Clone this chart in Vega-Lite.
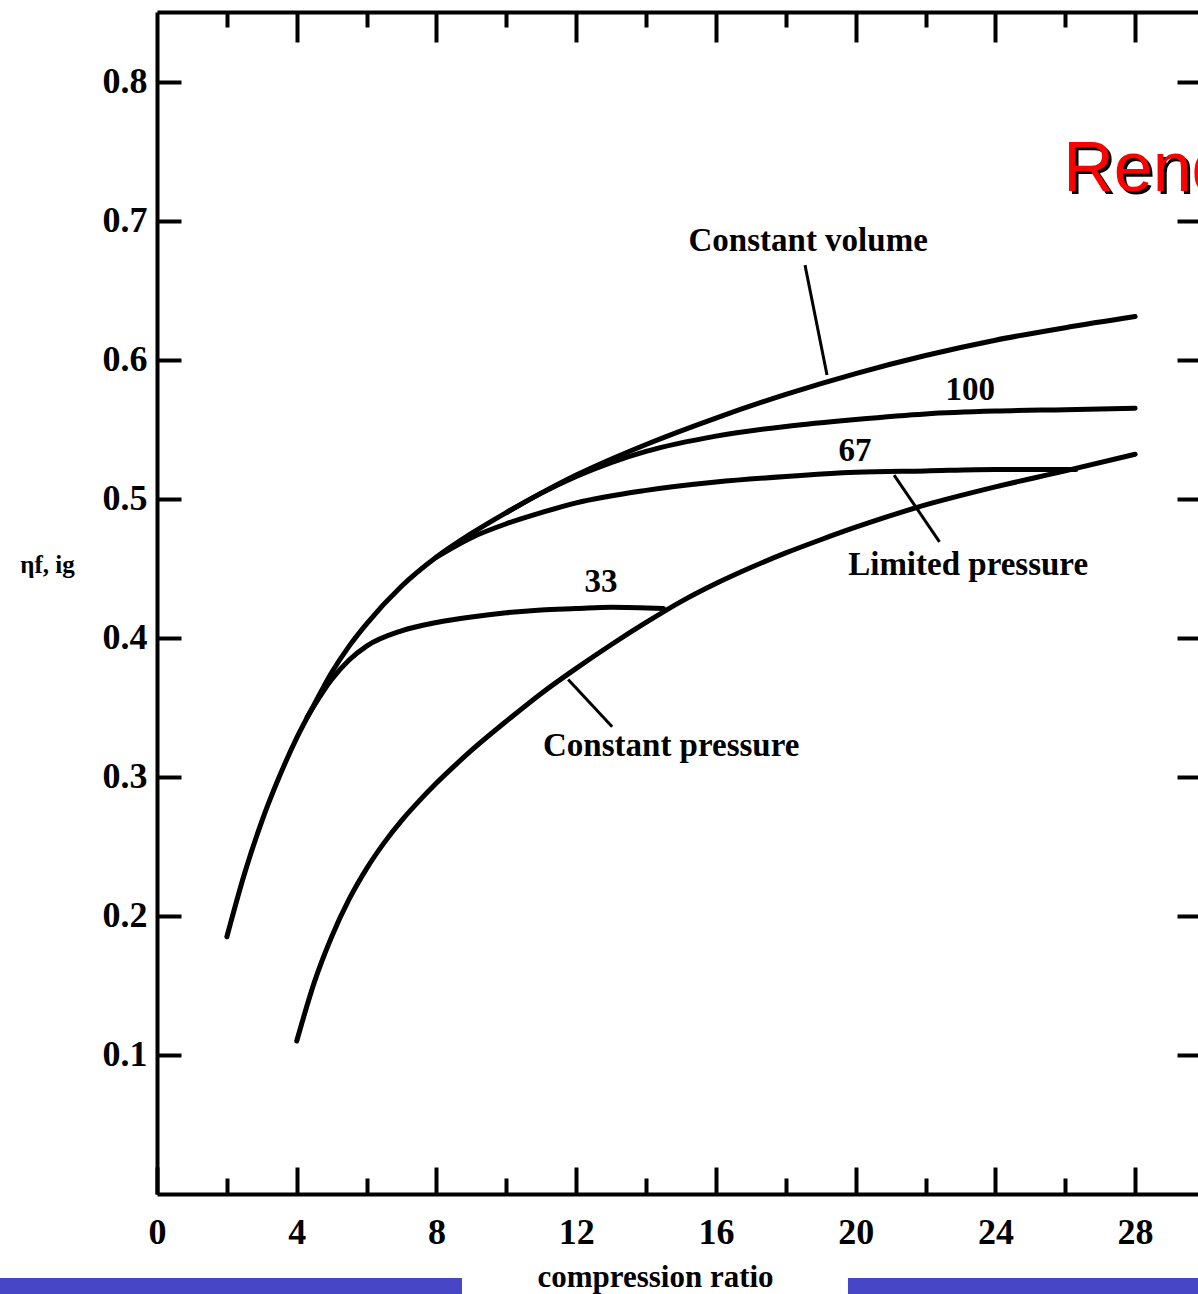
{
  "$schema": "https://vega.github.io/schema/vega-lite/v6.json",
  "width": 1041,
  "height": 1182,
  "autosize": {"type": "none"},
  "padding": {"left": 157, "top": 12, "right": 0, "bottom": 100},
  "background": "#ffffff",
  "config": {"view": {"stroke": null}, "axis": {"grid": false}},
  "datasets": {
    "curves": [
      {"series": "Constant volume", "r": 2, "eta": 0.185},
      {"series": "Constant volume", "r": 2.5, "eta": 0.23},
      {"series": "Constant volume", "r": 3, "eta": 0.268},
      {"series": "Constant volume", "r": 3.5, "eta": 0.3},
      {"series": "Constant volume", "r": 4, "eta": 0.328},
      {"series": "Constant volume", "r": 4.5, "eta": 0.352},
      {"series": "Constant volume", "r": 5, "eta": 0.375},
      {"series": "Constant volume", "r": 5.5, "eta": 0.394},
      {"series": "Constant volume", "r": 6, "eta": 0.41},
      {"series": "Constant volume", "r": 7, "eta": 0.437},
      {"series": "Constant volume", "r": 8, "eta": 0.458},
      {"series": "Constant volume", "r": 9, "eta": 0.475},
      {"series": "Constant volume", "r": 10, "eta": 0.49},
      {"series": "Constant volume", "r": 11, "eta": 0.504},
      {"series": "Constant volume", "r": 12, "eta": 0.517},
      {"series": "Constant volume", "r": 14, "eta": 0.539},
      {"series": "Constant volume", "r": 16, "eta": 0.558},
      {"series": "Constant volume", "r": 18, "eta": 0.575},
      {"series": "Constant volume", "r": 20, "eta": 0.59},
      {"series": "Constant volume", "r": 22, "eta": 0.603},
      {"series": "Constant volume", "r": 24, "eta": 0.614},
      {"series": "Constant volume", "r": 26, "eta": 0.623},
      {"series": "Constant volume", "r": 28, "eta": 0.631},
      {"series": "Limited pressure 100", "r": 10, "eta": 0.49},
      {"series": "Limited pressure 100", "r": 11, "eta": 0.504},
      {"series": "Limited pressure 100", "r": 12, "eta": 0.516},
      {"series": "Limited pressure 100", "r": 13, "eta": 0.526},
      {"series": "Limited pressure 100", "r": 14, "eta": 0.534},
      {"series": "Limited pressure 100", "r": 16, "eta": 0.545},
      {"series": "Limited pressure 100", "r": 18, "eta": 0.552},
      {"series": "Limited pressure 100", "r": 20, "eta": 0.557},
      {"series": "Limited pressure 100", "r": 22, "eta": 0.561},
      {"series": "Limited pressure 100", "r": 24, "eta": 0.563},
      {"series": "Limited pressure 100", "r": 26, "eta": 0.564},
      {"series": "Limited pressure 100", "r": 28, "eta": 0.565},
      {"series": "Limited pressure 67", "r": 8, "eta": 0.458},
      {"series": "Limited pressure 67", "r": 9, "eta": 0.472},
      {"series": "Limited pressure 67", "r": 10, "eta": 0.482},
      {"series": "Limited pressure 67", "r": 11, "eta": 0.49},
      {"series": "Limited pressure 67", "r": 12, "eta": 0.497},
      {"series": "Limited pressure 67", "r": 14, "eta": 0.506},
      {"series": "Limited pressure 67", "r": 16, "eta": 0.512},
      {"series": "Limited pressure 67", "r": 18, "eta": 0.516},
      {"series": "Limited pressure 67", "r": 20, "eta": 0.519},
      {"series": "Limited pressure 67", "r": 22, "eta": 0.52},
      {"series": "Limited pressure 67", "r": 24, "eta": 0.521},
      {"series": "Limited pressure 67", "r": 26.3, "eta": 0.521},
      {"series": "Limited pressure 33", "r": 4.3, "eta": 0.343},
      {"series": "Limited pressure 33", "r": 5, "eta": 0.37},
      {"series": "Limited pressure 33", "r": 5.5, "eta": 0.384},
      {"series": "Limited pressure 33", "r": 6, "eta": 0.394},
      {"series": "Limited pressure 33", "r": 7, "eta": 0.405},
      {"series": "Limited pressure 33", "r": 8, "eta": 0.411},
      {"series": "Limited pressure 33", "r": 9, "eta": 0.415},
      {"series": "Limited pressure 33", "r": 10, "eta": 0.418},
      {"series": "Limited pressure 33", "r": 11, "eta": 0.42},
      {"series": "Limited pressure 33", "r": 12, "eta": 0.421},
      {"series": "Limited pressure 33", "r": 13, "eta": 0.422},
      {"series": "Limited pressure 33", "r": 14.5, "eta": 0.421},
      {"series": "Constant pressure", "r": 4, "eta": 0.11},
      {"series": "Constant pressure", "r": 4.5, "eta": 0.152},
      {"series": "Constant pressure", "r": 5, "eta": 0.185},
      {"series": "Constant pressure", "r": 5.5, "eta": 0.212},
      {"series": "Constant pressure", "r": 6, "eta": 0.234},
      {"series": "Constant pressure", "r": 6.5, "eta": 0.2525},
      {"series": "Constant pressure", "r": 7, "eta": 0.2685},
      {"series": "Constant pressure", "r": 7.5, "eta": 0.2825},
      {"series": "Constant pressure", "r": 8, "eta": 0.2955},
      {"series": "Constant pressure", "r": 8.5, "eta": 0.3075},
      {"series": "Constant pressure", "r": 9, "eta": 0.319},
      {"series": "Constant pressure", "r": 10, "eta": 0.34},
      {"series": "Constant pressure", "r": 11, "eta": 0.36},
      {"series": "Constant pressure", "r": 12, "eta": 0.378},
      {"series": "Constant pressure", "r": 13, "eta": 0.395},
      {"series": "Constant pressure", "r": 14, "eta": 0.411},
      {"series": "Constant pressure", "r": 15, "eta": 0.426},
      {"series": "Constant pressure", "r": 16, "eta": 0.439},
      {"series": "Constant pressure", "r": 17, "eta": 0.4505},
      {"series": "Constant pressure", "r": 18, "eta": 0.461},
      {"series": "Constant pressure", "r": 19, "eta": 0.4705},
      {"series": "Constant pressure", "r": 20, "eta": 0.4795},
      {"series": "Constant pressure", "r": 22, "eta": 0.4955},
      {"series": "Constant pressure", "r": 24, "eta": 0.5085},
      {"series": "Constant pressure", "r": 26, "eta": 0.52},
      {"series": "Constant pressure", "r": 28, "eta": 0.532}
    ],
    "leaders": [
      {"r": 18.55, "eta": 0.668, "r2": 19.18, "eta2": 0.589},
      {"r": 21.1, "eta": 0.517, "r2": 22.4, "eta2": 0.469},
      {"r": 11.77, "eta": 0.37, "r2": 13.03, "eta2": 0.336}
    ],
    "notes": [
      {"r": 18.64, "eta": 0.685, "label": "Constant volume"},
      {"r": 23.28, "eta": 0.578, "label": "100"},
      {"r": 19.98, "eta": 0.534, "label": "67"},
      {"r": 12.71, "eta": 0.44, "label": "33"},
      {"r": 23.22, "eta": 0.452, "label": "Limited pressure"},
      {"r": 14.72, "eta": 0.322, "label": "Constant pressure"}
    ]
  },
  "resolve": {"axis": {"x": "independent", "y": "independent"}},
  "layer": [
    {
      "data": {"name": "curves"},
      "mark": {"type": "line", "stroke": "black", "strokeWidth": 5, "interpolate": "monotone", "strokeCap": "round"},
      "encoding": {
        "x": {
          "field": "r", "type": "quantitative",
          "scale": {"domain": [0, 29.8], "nice": false, "zero": false},
          "axis": {
            "orient": "bottom", "values": [0, 4, 8, 12, 16, 20, 24, 28],
            "tickSize": -27, "tickWidth": 4, "tickColor": "black",
            "domainColor": "black", "domainWidth": 4,
            "labelFont": "Liberation Serif", "labelFontWeight": "bold", "labelFontSize": 36, "labelColor": "black",
            "labelPadding": 48, "labelFlush": false, "labelOverlap": false,
            "title": "compression ratio", "titleFont": "Liberation Serif", "titleFontWeight": "bold", "titleFontSize": 31,
            "titleColor": "black", "titleX": 498, "titleY": 92, "titleBaseline": "alphabetic", "titleAlign": "center"
          }
        },
        "y": {
          "field": "eta", "type": "quantitative",
          "scale": {"domain": [0, 0.85], "nice": false, "zero": false},
          "axis": {
            "orient": "left", "values": [0.1, 0.2, 0.3, 0.4, 0.5, 0.6, 0.7, 0.8], "format": ".1f",
            "tickSize": -24, "tickWidth": 4, "tickColor": "black",
            "domainColor": "black", "domainWidth": 4,
            "labelFont": "Liberation Serif", "labelFontWeight": "bold", "labelFontSize": 36, "labelColor": "black",
            "labelPadding": 34, "labelFlush": false, "labelOverlap": false,
            "title": "ηf, ig", "titleAngle": 0, "titleX": -110, "titleY": 552,
            "titleAlign": "center", "titleBaseline": "middle",
            "titleFont": "Liberation Serif", "titleFontWeight": "bold", "titleFontSize": 25, "titleColor": "black"
          }
        },
        "detail": {"field": "series"}
      }
    },
    {
      "data": {"name": "curves"},
      "mark": {"type": "point", "opacity": 0},
      "encoding": {
        "x": {
          "field": "r", "type": "quantitative",
          "axis": {
            "orient": "top", "values": [4, 8, 12, 16, 20, 24, 28], "tickSize": -30, "tickWidth": 4,
            "tickColor": "black", "domainColor": "black", "domainWidth": 4, "labels": false, "title": null
          }
        },
        "y": {
          "field": "eta", "type": "quantitative",
          "axis": {
            "orient": "right", "values": [0.1, 0.2, 0.3, 0.4, 0.5, 0.6, 0.7, 0.8], "tickSize": -21,
            "tickWidth": 4, "tickColor": "black", "domain": false, "labels": false, "title": null
          }
        }
      }
    },
    {
      "data": {"name": "curves"},
      "mark": {"type": "point", "opacity": 0},
      "encoding": {
        "x": {
          "field": "r", "type": "quantitative",
          "axis": {
            "orient": "bottom", "values": [2, 6, 10, 14, 18, 22, 26], "tickSize": -16, "tickWidth": 4,
            "tickColor": "black", "domain": false, "labels": false, "title": null
          }
        },
        "y": {"field": "eta", "type": "quantitative", "axis": null}
      }
    },
    {
      "data": {"name": "curves"},
      "mark": {"type": "point", "opacity": 0},
      "encoding": {
        "x": {
          "field": "r", "type": "quantitative",
          "axis": {
            "orient": "top", "values": [2, 6, 10, 14, 18, 22, 26], "tickSize": -15, "tickWidth": 4,
            "tickColor": "black", "domain": false, "labels": false, "title": null
          }
        },
        "y": {"field": "eta", "type": "quantitative", "axis": null}
      }
    },
    {
      "data": {"name": "leaders"},
      "mark": {"type": "rule", "stroke": "black", "strokeWidth": 3},
      "encoding": {
        "x": {"field": "r", "type": "quantitative", "axis": null},
        "y": {"field": "eta", "type": "quantitative", "axis": null},
        "x2": {"field": "r2"},
        "y2": {"field": "eta2"}
      }
    },
    {
      "data": {"name": "notes"},
      "mark": {"type": "text", "font": "Liberation Serif", "fontWeight": "bold", "fontSize": 33, "fill": "black", "align": "center", "baseline": "middle"},
      "encoding": {
        "x": {"field": "r", "type": "quantitative", "axis": null},
        "y": {"field": "eta", "type": "quantitative", "axis": null},
        "text": {"field": "label"}
      }
    },
    {
      "data": {"values": [{}]},
      "mark": {"type": "text", "text": "Rendement", "font": "Liberation Sans", "fontSize": 70, "fill": "black", "align": "left", "baseline": "alphabetic", "dx": 3, "dy": 3},
      "encoding": {
        "x": {"datum": 25.94, "type": "quantitative", "axis": null},
        "y": {"datum": 0.721, "type": "quantitative", "axis": null}
      }
    },
    {
      "data": {"values": [{}]},
      "mark": {"type": "text", "text": "Rendement", "font": "Liberation Sans", "fontSize": 70, "fill": "#ff0000", "align": "left", "baseline": "alphabetic"},
      "encoding": {
        "x": {"datum": 25.94, "type": "quantitative", "axis": null},
        "y": {"datum": 0.721, "type": "quantitative", "axis": null}
      }
    },
    {
      "data": {"values": [{}]},
      "mark": {"type": "rect", "fill": "#4646c6"},
      "encoding": {
        "x": {"datum": -4.6, "type": "quantitative", "axis": null},
        "x2": {"datum": 8.73},
        "y": {"datum": -0.0604, "type": "quantitative", "axis": null},
        "y2": {"datum": -0.075}
      }
    },
    {
      "data": {"values": [{}]},
      "mark": {"type": "rect", "fill": "#4646c6"},
      "encoding": {
        "x": {"datum": 19.78, "type": "quantitative", "axis": null},
        "x2": {"datum": 30.5},
        "y": {"datum": -0.0604, "type": "quantitative", "axis": null},
        "y2": {"datum": -0.075}
      }
    }
  ]
}
